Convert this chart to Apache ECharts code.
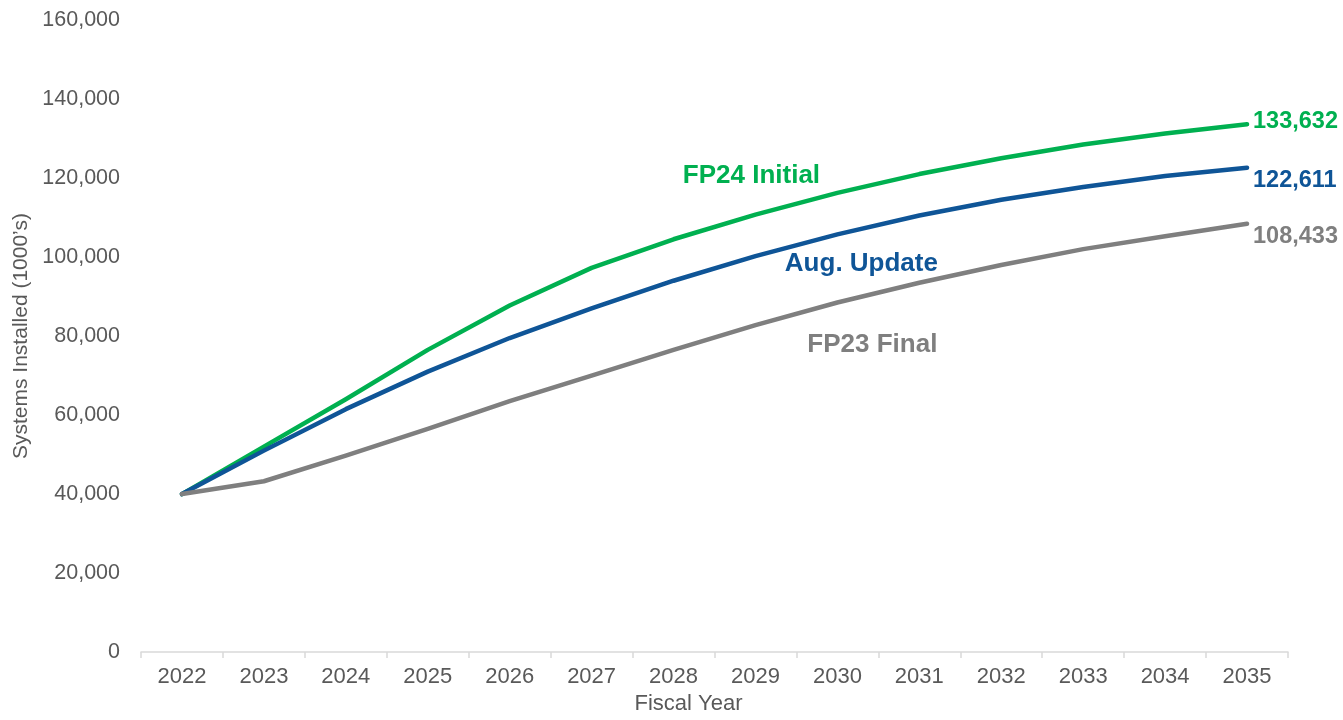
<!DOCTYPE html>
<html>
<head>
<meta charset="utf-8">
<script src="https://cdn.jsdelivr.net/npm/echarts@6/dist/echarts.min.js"></script>
<style>
html,body{margin:0;padding:0;background:#fff;}
#chart{width:1343px;height:720px;}
</style>
</head>
<body>
<div id="chart"></div>
<script>
var years = ['2022','2023','2024','2025','2026','2027','2028','2029','2030','2031','2032','2033','2034','2035'];
var fp24Initial = [40000, 52000, 64000, 76500, 87750, 97250, 104500, 110750, 116250, 121000, 125000, 128500, 131250, 133632];
var augUpdate   = [40000, 51000, 61500, 71000, 79500, 87000, 94000, 100250, 105750, 110500, 114500, 117750, 120500, 122611];
var fp23Final   = [40000, 43250, 49750, 56500, 63500, 70000, 76500, 82750, 88500, 93500, 98000, 102000, 105250, 108433];
var yTicks = [0, 20000, 40000, 60000, 80000, 100000, 120000, 140000, 160000];
var seriesNames = ['FP24 Initial', 'Aug. Update', 'FP23 Final'];

var font = 'Arial, "Liberation Sans", sans-serif';
var colors = ['#00B050', '#0F5597', '#7F7F7F'];

function fmt(v){ return v.toString().replace(/\B(?=(\d{3})+(?!\d))/g, ','); }

function makeSeries(name, data, color, endOffset, annot){
  return {
    name: name,
    type: 'line',
    data: data,
    symbol: 'none',
    lineStyle: {color: color, width: 4.5, cap: 'round', join: 'round'},
    itemStyle: {color: color},
    z: 3,
    endLabel: {
      show: true,
      formatter: function(p){ return fmt(p.value); },
      color: color,
      fontFamily: font,
      fontWeight: 'bold',
      fontSize: 23.5,
      distance: 6,
      offset: endOffset
    },
    markPoint: {
      symbol: 'circle',
      symbolSize: 0,
      silent: true,
      data: [{coord: annot.coord, value: name}],
      label: {
        show: true,
        position: 'inside',
        formatter: name,
        color: color,
        fontFamily: font,
        fontWeight: 'bold',
        fontSize: 26,
        offset: annot.offset
      }
    }
  };
}

var chart = echarts.init(document.getElementById('chart'), null, {renderer: 'canvas'});
chart.setOption({
  animation: false,
  backgroundColor: '#ffffff',
  grid: {left: 141, right: 55, top: 20, bottom: 59.5, containLabel: false},
  xAxis: {
    type: 'category',
    data: years,
    boundaryGap: true,
    name: 'Fiscal Year',
    nameLocation: 'middle',
    nameGap: 38,
    nameTextStyle: {color: '#595959', fontFamily: font, fontSize: 22, padding: [0, 52, 0, 0]},
    axisLine: {lineStyle: {color: '#D9D9D9', width: 1.5}},
    axisTick: {show: true, alignWithLabel: false, length: 6, lineStyle: {color: '#D9D9D9', width: 1.5}},
    axisLabel: {color: '#595959', fontFamily: font, fontSize: 22, margin: 14},
    splitLine: {show: false}
  },
  yAxis: {
    type: 'value',
    min: yTicks[0],
    max: yTicks[yTicks.length - 1],
    interval: yTicks[1] - yTicks[0],
    name: 'Systems Installed (1000\u2019s)',
    nameLocation: 'middle',
    nameGap: 108,
    nameTextStyle: {color: '#595959', fontFamily: font, fontSize: 21},
    axisLine: {show: false},
    axisTick: {show: false},
    splitLine: {show: false},
    axisLabel: {color: '#595959', fontFamily: font, fontSize: 21.5, margin: 21, formatter: function(v){ return fmt(v); }}
  },
  series: [
    makeSeries(seriesNames[0], fp24Initial, colors[0], [0, -3], {coord: ['2029', 120500], offset: [-4, 0]}),
    makeSeries(seriesNames[1], augUpdate, colors[1], [0, 13], {coord: ['2030', 98250], offset: [24, 0]}),
    makeSeries(seriesNames[2], fp23Final, colors[2], [0, 13], {coord: ['2030', 77750], offset: [35, 0]})
  ]
});
</script>
</body>
</html>
